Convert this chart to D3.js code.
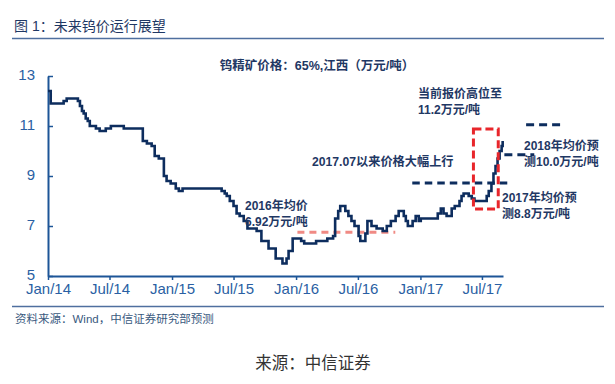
<!DOCTYPE html>
<html>
<head>
<meta charset="utf-8">
<script src="https://cdn.jsdelivr.net/npm/d3@7"></script>
<style>
  body { margin: 0; background: #fff; }
  svg { display: block; }
  text { font-family: "Liberation Sans", Arial, "Noto Sans CJK SC", sans-serif; }
</style>
</head>
<body>
<svg id="chart" width="615" height="384"></svg>
<script>
// tungsten concentrate price, step changes (date, wan yuan / ton)
var priceDates = ["2014-01-01","2014-01-09","2014-02-16","2014-02-25","2014-03-30","2014-04-05","2014-04-11","2014-04-16","2014-04-22","2014-04-28",
  "2014-05-04","2014-05-22","2014-06-02","2014-06-20","2014-07-05","2014-08-12","2014-10-07","2014-10-19","2014-11-02","2014-11-11",
  "2014-11-23","2014-12-08","2014-12-16","2014-12-28","2015-01-12","2015-01-21","2015-02-01","2015-05-27","2015-06-05","2015-06-11",
  "2015-06-20","2015-07-01","2015-07-10","2015-07-19","2015-07-31","2015-08-11","2015-09-07","2015-09-21","2015-10-12","2015-11-02",
  "2015-11-22","2015-12-04","2015-12-10","2015-12-22","2016-01-16","2016-01-25","2016-02-29","2016-04-02","2016-04-19","2016-04-25",
  "2016-05-04","2016-05-10","2016-05-25","2016-06-03","2016-06-12","2016-06-21","2016-07-03","2016-07-08","2016-07-23","2016-07-29",
  "2016-08-10","2016-08-25","2016-09-12","2016-09-24","2016-10-06","2016-10-20","2016-10-29","2016-11-13","2016-11-19","2016-11-25",
  "2016-12-09","2016-12-18","2016-12-27","2017-01-02","2017-02-21","2017-03-02","2017-03-10","2017-03-19","2017-04-03","2017-04-12",
  "2017-04-26","2017-05-02","2017-05-08","2017-05-23","2017-06-01","2017-06-09","2017-07-15","2017-07-21","2017-07-29","2017-08-04",
  "2017-08-10","2017-08-16","2017-08-22","2017-08-28","2017-08-31"];
var priceValues = [12.4,11.9,12.0,12.1,12.0,11.8,11.6,11.5,11.3,11.2,
  11.0,10.9,10.8,10.9,11.0,10.9,10.4,10.3,10.2,9.8,
  9.7,9.0,8.8,8.7,8.5,8.4,8.5,8.4,8.3,8.2,
  8.0,7.8,7.5,7.4,7.2,6.9,6.8,6.4,6.1,5.7,
  5.5,5.7,6.0,6.5,6.4,6.3,6.4,6.5,6.6,7.3,
  7.6,7.8,7.6,7.4,7.2,7.0,6.6,6.4,6.7,7.2,
  7.0,6.9,6.8,7.0,7.2,7.4,7.6,7.4,7.2,7.0,
  7.2,7.4,7.2,7.3,7.5,7.7,7.5,7.4,7.7,7.8,
  8.0,8.2,8.3,8.2,8.1,8.0,8.2,8.4,8.7,9.1,
  9.4,9.7,10.0,10.2,10.4];

var yTicks = [5, 7, 9, 11, 13];
var xTickDates = ["2014-01-01","2014-07-01","2015-01-01","2015-07-01","2016-01-01","2016-07-01","2017-01-01","2017-07-01"];

// average price guides: [start, end, level]
var avg2016 = ["2016-01-05", "2016-10-19", 6.75];
var avg2017 = ["2016-12-08", "2017-09-17", 8.72];
var avg2018 = ["2017-09-05", "2017-12-02", 9.85];
var highMark = ["2017-11-08", "2018-02-16", 11.05];
var box = ["2017-06-06", "2017-08-18", 7.68, 10.88];

(function(){
  var parse = d3.timeParse("%Y-%m-%d");
  var fmt = d3.timeFormat("%b/%y");
  var svg = d3.select("#chart");

  var navy = "#0d2d5e", axisBlue = "#1d5597", textNavy = "#1f3864";

  var x = d3.scaleTime().domain([parse("2014-01-01"), parse("2017-09-01")]).range([48, 503]);
  var y = d3.scaleLinear().domain([5, 13]).range([276, 76]);

  // header
  svg.append("text").attr("x", 14).attr("y", 31).attr("font-size", 14).attr("fill", textNavy)
    .text("图 1：未来钨价运行展望");
  svg.append("line").attr("x1", 12).attr("x2", 604).attr("y1", 38.5).attr("y2", 38.5)
    .attr("stroke", "#4f6f9f").attr("stroke-width", 1.5);
  svg.append("text").attr("x", 317).attr("y", 70).attr("text-anchor", "middle")
    .attr("font-size", 12.5).attr("font-weight", "bold").attr("fill", textNavy)
    .text("钨精矿价格：65%,江西（万元/吨）");

  // axes
  var yAxis = d3.axisLeft(y).tickValues(yTicks).tickSizeInner(-5).tickSizeOuter(0).tickPadding(13);
  var xAxis = d3.axisBottom(x).tickValues(xTickDates.map(parse)).tickFormat(fmt).tickSizeInner(4).tickSizeOuter(0).tickPadding(3);

  var gy = svg.append("g").attr("transform", "translate(48,0)").call(yAxis);
  var gx = svg.append("g").attr("transform", "translate(0,276)").call(xAxis);
  [gy, gx].forEach(function(g){
    g.select(".domain").attr("stroke", axisBlue).attr("stroke-width", 2);
    g.selectAll(".tick line").attr("stroke", axisBlue).attr("stroke-width", 1.5);
    g.selectAll(".tick text").attr("fill", "#2a5fa3").attr("font-size", 15)
      .style("font-family", "'Liberation Sans', Arial, sans-serif");
  });
  gy.selectAll(".tick text").attr("dy", "0.25em");

  // guide lines
  var guide = function(g, color, dash) {
    svg.append("line")
      .attr("x1", x(parse(g[0]))).attr("x2", x(parse(g[1])))
      .attr("y1", y(g[2])).attr("y2", y(g[2]))
      .attr("stroke", color).attr("stroke-width", 3).attr("stroke-dasharray", dash);
  };
  guide(avg2016, "#f08a84", "7,5");
  guide(avg2017, navy, "7.5,5");
  guide(avg2018, navy, "8,5");
  guide(highMark, navy, "8,5");

  // price line
  var data = priceDates.map(function(d, i){ return {date: parse(d), value: priceValues[i]}; });
  var line = d3.line().x(function(d){ return x(d.date); }).y(function(d){ return y(d.value); })
    .curve(d3.curveStepAfter);
  svg.append("path").datum(data).attr("d", line)
    .attr("fill", "none").attr("stroke", navy).attr("stroke-width", 2.6).attr("stroke-linejoin", "miter");

  // red box around the recent rally
  svg.append("rect")
    .attr("x", x(parse(box[0]))).attr("y", y(box[3]))
    .attr("width", x(parse(box[1])) - x(parse(box[0])))
    .attr("height", y(box[2]) - y(box[3]))
    .attr("fill", "none").attr("stroke", "#e8262b").attr("stroke-width", 3).attr("stroke-dasharray", "8,4");

  // notes
  var note = function(px, py, lines, size) {
    var t = svg.append("text").attr("font-size", size || 12).attr("font-weight", "bold").attr("fill", textNavy);
    lines.forEach(function(s, i){
      t.append("tspan").attr("x", px).attr("y", py + i * 16).text(s);
    });
  };
  note(245, 210, ["2016年均价", "6.92万元/吨"]);
  note(312, 166, ["2017.07以来价格大幅上行"], 12.2);
  note(418, 98, ["当前报价高位至", "11.2万元/吨"]);
  note(524, 150, ["2018年均价预", "测10.0万元/吨"]);
  note(502, 202, ["2017年均价预", "测8.8万元/吨"]);

  // footer
  svg.append("line").attr("x1", 12).attr("x2", 604).attr("y1", 306.5).attr("y2", 306.5)
    .attr("stroke", "#4f6f9f").attr("stroke-width", 1.5);
  svg.append("text").attr("x", 15).attr("y", 323).attr("font-size", 11.5).attr("fill", "#3a5a80")
    .text("资料来源：Wind，中信证券研究部预测");
  svg.append("text").attr("x", 313).attr("y", 369).attr("text-anchor", "middle")
    .attr("font-size", 16.5).attr("fill", "#333")
    .style("font-family", "'Noto Sans CJK SC', sans-serif")
    .text("来源：中信证券");
})()
</script>
</body>
</html>
